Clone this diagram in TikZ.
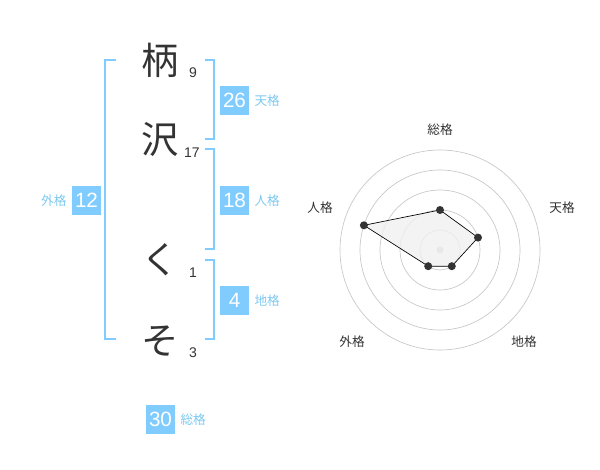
\documentclass[tikz,border=0pt]{standalone}
\usepackage{fontspec}
\setmainfont{Liberation Sans}
\newfontfamily\jp{Noto Sans CJK JP}
\definecolor{kakuBlue}{RGB}{128,204,255}
\definecolor{kakuText}{RGB}{125,200,240}
\definecolor{inkGray}{RGB}{51,51,51}
\tikzset{every picture/.style={line width=0.75pt}}
\tikzset{
  kanji/.style={inner sep=0pt,text=inkGray,font=\jp\fontsize{28}{28}\selectfont},
  stroke/.style={inner sep=0pt,text=inkGray,font=\fontsize{10.5}{10.5}\selectfont},
  kakubox/.style={fill=kakuBlue,text=white,minimum width=21.75pt,minimum height=21.75pt,inner sep=0pt,font=\fontsize{15.5}{15.5}\selectfont},
  kakulabel/.style={inner sep=0pt,text=kakuText,font=\jp\fontsize{9.5}{9.5}\selectfont},
  bracket/.style={draw=kakuBlue,line width=1.5pt},
  radarlabel/.style={inner sep=0pt,text=inkGray,font=\jp\fontsize{9.5}{9.5}\selectfont},
  ring/.style={draw=black!22,line width=0.5pt},
  dot/.style={circle,fill=inkGray,inner sep=0pt,minimum size=6pt}
}

\begin{document}
\begin{tikzpicture}[x=0.75pt,y=0.75pt,yscale=-1,xscale=1]
		\path (0,0) rectangle (600,470); %set diagram to 600 x 470
		
		%Brackets
		\draw [bracket] (116,60) -- (105,60) -- (105,339) -- (116,339) ;
		\draw [bracket] (205,60) -- (214,60) -- (214,139) -- (205,139) ;
		\draw [bracket] (205,149) -- (214,149) -- (214,249) -- (205,249) ;
		\draw [bracket] (205,260) -- (214,260) -- (214,339) -- (205,339) ;
		
		% Name characters
		\node [kanji] (c1) at (160,60) {柄};
		\node [kanji] (c2) at (160,140) {沢};
		\node [kanji] (c3) at (160,260) {く};
		\node [kanji] (c4) at (160,341) {そ};
		% Stroke counts
		\node [stroke] (n1) at (193,73) {9};
		\node [stroke] (n2) at (192,153) {17};
		\node [stroke] (n3) at (193,273) {1};
		\node [stroke] (n4) at (193,353) {3};
		
		% Kaku boxes
		\node [kakubox] (ten) at (234.5,100.5) {26};
		\node [kakulabel, anchor=west] (tenL) at (254,101) {天格};
		\node [kakubox] (jin) at (234.5,200.5) {18};
		\node [kakulabel, anchor=west] (jinL) at (254,201) {人格};
		\node [kakubox] (chi) at (234.5,300.5) {4};
		\node [kakulabel, anchor=west] (chiL) at (254,301) {地格};
		\node [kakubox] (gai) at (86.5,200.5) {12};
		\node [kakulabel, anchor=east] (gaiL) at (67,201) {外格};
		\node [kakubox] (sou) at (160.5,419.5) {30};
		\node [kakulabel, anchor=west] (souL) at (180,420) {総格};
		
		%Radar rings
		\foreach \r in {20,40,60,80,100}
			\draw [ring] (440,250) circle (\r);
		\fill [black!20] (440,250) circle (3.5);
		
		%Radar values
		\coordinate (pSou) at (440,210);
		\coordinate (pTen) at (478,237.6);
		\coordinate (pChi) at (451.8,266.2);
		\coordinate (pGai) at (428.2,266.2);
		\coordinate (pJin) at (363.9,225.3);
		\draw [fill=black!6, fill opacity=0.8, line width=0.5pt] (pSou) -- (pTen) -- (pChi) -- (pGai) -- (pJin) -- cycle ;
		\foreach \p in {pSou,pTen,pChi,pGai,pJin}
			\node [dot] at (\p) {};
		
		% Radar labels
		\node [radarlabel] (rSou) at (440,130) {総格};
		\node [radarlabel] (rTen) at (562,208) {天格};
		\node [radarlabel] (rChi) at (524,342) {地格};
		\node [radarlabel] (rGai) at (352,342) {外格};
		\node [radarlabel] (rJin) at (320,208) {人格};
	\end{tikzpicture}
\end{document}
